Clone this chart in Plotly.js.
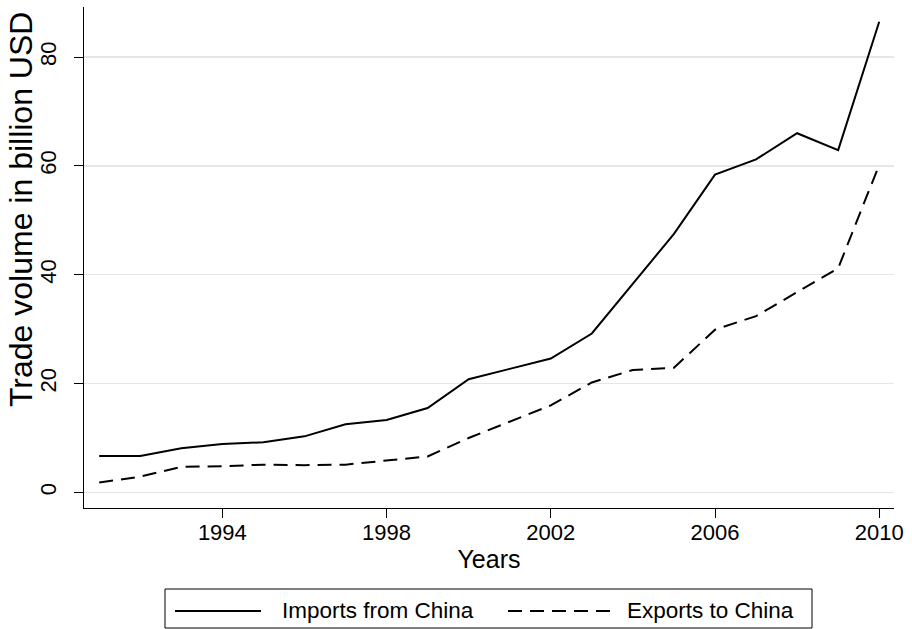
<!DOCTYPE html>
<html>
<head>
<meta charset="utf-8">
<script src="https://cdn.plot.ly/plotly-3.0.1.min.js"></script>
<style>html,body{margin:0;padding:0;background:#fff;}#chart{width:912px;height:629px;}</style>
</head>
<body>
<div id="chart"></div>
<script>
const years = [1991,1992,1993,1994,1995,1996,1997,1998,1999,2000,2001,2002,2003,2004,2005,2006,2007,2008,2009,2010];
const imports = [6.7,6.7,8.1,8.9,9.2,10.3,12.5,13.3,15.5,20.8,22.7,24.6,29.2,38.3,47.5,58.4,61.2,66.0,62.9,86.5];
const exports = [1.8,2.9,4.7,4.8,5.1,5.0,5.1,5.9,6.6,10.0,13.0,16.0,20.2,22.5,22.9,29.9,32.4,36.8,41.2,60.2];
const seriesNames = ["Imports from China", "Exports to China"];
const xTicks = [1994,1998,2002,2006,2010];
const yTicks = [0,20,40,60,80];
const xTitle = "Years";
const yTitle = "Trade volume in billion USD";

const W = 912, H = 629;
const L = 84, R = 894, T = 7, B = 508;
const px = x => (x - L) / (R - L);
const py = y => (B - y) / (B - T);
const font = "Liberation Sans, Arial, Helvetica, sans-serif";

const traces = [
  {x: years, y: imports, name: seriesNames[0], type: "scatter", mode: "lines",
   line: {color: "#000", width: 2}, showlegend: false},
  {x: years, y: exports, name: seriesNames[1], type: "scatter", mode: "lines",
   line: {color: "#000", width: 2, dash: "14px,8px"}, showlegend: false}
];

const legY = 611;
const layout = {
  width: W, height: H,
  margin: {l: L, r: W - R, t: T, b: H - B},
  paper_bgcolor: "#fff", plot_bgcolor: "#fff",
  font: {family: font, color: "#000", size: 22},
  showlegend: false,
  xaxis: {
    range: [1990.63, 2010.36], tickvals: xTicks, ticktext: xTicks.map(String),
    showgrid: false, zeroline: false, showline: true, linecolor: "#000", linewidth: 1.3,
    ticks: "outside", ticklen: 9, tickwidth: 1, tickcolor: "#000",
    tickfont: {size: 22}, ticklabelstandoff: -5, fixedrange: true,
    title: {text: xTitle, font: {size: 25}, standoff: 6}
  },
  yaxis: {
    range: [-2.87, 89.2], tickvals: yTicks, ticktext: yTicks.map(String),
    showgrid: true, gridcolor: "#e6e6e6", gridwidth: 1.5, zeroline: false,
    showline: true, linecolor: "#000", linewidth: 1.3,
    ticks: "outside", ticklen: 9, tickwidth: 1, tickcolor: "#000",
    tickangle: -90, tickfont: {size: 22}, ticklabelstandoff: 9, fixedrange: true
  },
  shapes: [
    {type: "rect", xref: "paper", yref: "paper", x0: px(165), x1: px(812), y0: py(628), y1: py(589),
     line: {color: "#000", width: 1}, fillcolor: "rgba(0,0,0,0)"},
    {type: "line", xref: "paper", yref: "paper", x0: px(175), x1: px(261), y0: py(legY), y1: py(legY),
     line: {color: "#000", width: 2}},
    {type: "line", xref: "paper", yref: "paper", x0: px(508), x1: px(610), y0: py(legY), y1: py(legY),
     line: {color: "#000", width: 2, dash: "14px,8px"}}
  ],
  annotations: [
    {xref: "paper", yref: "paper", x: px(21), y: py(210), xanchor: "center", yanchor: "middle",
     textangle: -90, text: yTitle, showarrow: false, font: {size: 32}},
    {xref: "paper", yref: "paper", x: px(280), y: py(legY), xanchor: "left", yanchor: "middle",
     text: seriesNames[0], showarrow: false, font: {size: 22.5}},
    {xref: "paper", yref: "paper", x: px(625), y: py(legY), xanchor: "left", yanchor: "middle",
     text: seriesNames[1], showarrow: false, font: {size: 22.5}}
  ]
};

Plotly.newPlot("chart", traces, layout, {displayModeBar: false, staticPlot: true});
</script>
</body>
</html>
